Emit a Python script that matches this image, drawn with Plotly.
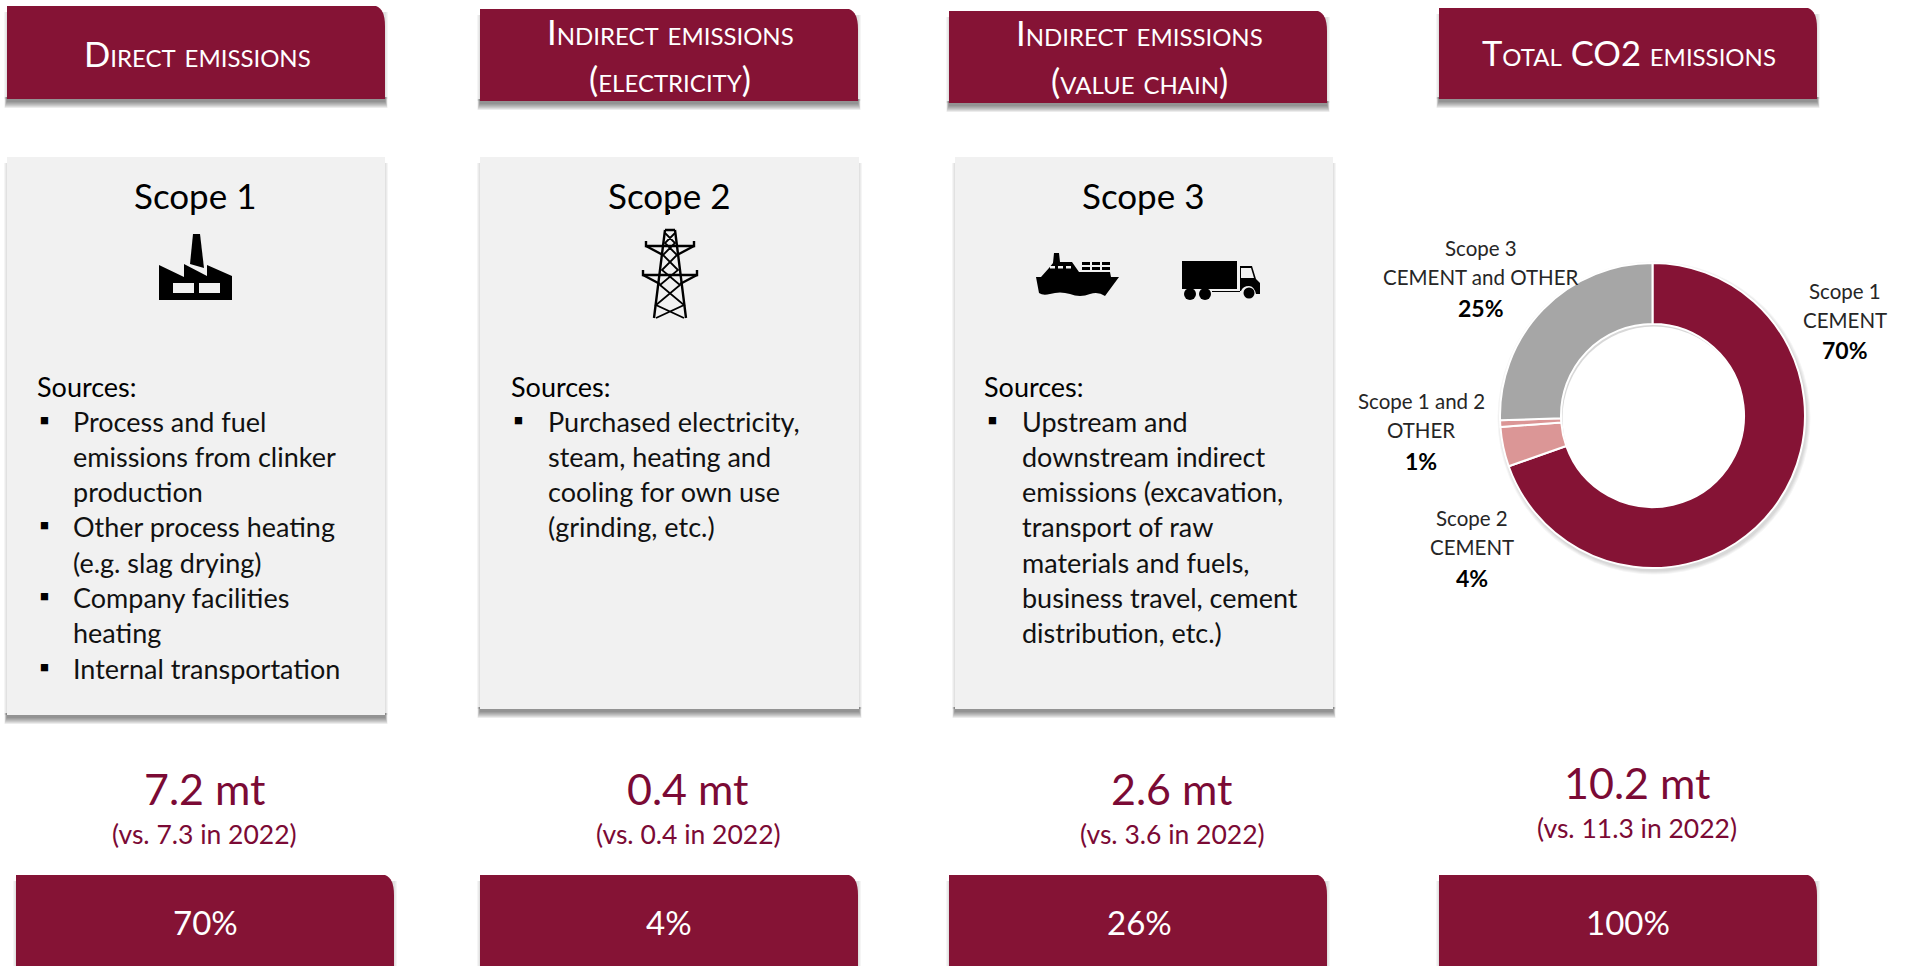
import plotly.graph_objects as go

W, H = 1908, 966
FONT = "Lato"
MAROON = "#851335"
VALUE_COLOR = "#7B0A35"
PINK = "#DB9696"
GREY = "#A6A6A6"
CARD = "#F1F1F1"

# ---- data ----
pie_labels = ["Scope 1 CEMENT", "Scope 2 CEMENT", "Scope 1 and 2 OTHER", "Scope 3 CEMENT and OTHER"]
pie_values = [69.6, 4.2, 0.7, 25.5]
pie_colors = [MAROON, PINK, PINK, GREY]

header_lines = [["Direct emissions"], ["Indirect emissions", "(electricity)"],
                ["Indirect emissions", "(value chain)"], ["Total CO2 emissions"]]
scope_titles = ["Scope 1", "Scope 2", "Scope 3"]
source_lines = [
    [("b", "Process and fuel"), ("", "emissions from clinker"), ("", "production"),
     ("b", "Other process heating"), ("", "(e.g. slag drying)"),
     ("b", "Company facilities"), ("", "heating"), ("b", "Internal transportation")],
    [("b", "Purchased electricity,"), ("", "steam, heating and"), ("", "cooling for own use"), ("", "(grinding, etc.)")],
    [("b", "Upstream and"), ("", "downstream indirect"), ("", "emissions (excavation,"),
     ("", "transport of raw"), ("", "materials and fuels,"), ("", "business travel, cement"), ("", "distribution, etc.)")],
]
mt_values = ["7.2 mt", "0.4 mt", "2.6 mt", "10.2 mt"]
prev_values = ["(vs. 7.3 in 2022)", "(vs. 0.4 in 2022)", "(vs. 3.6 in 2022)", "(vs. 11.3 in 2022)"]
share_values = ["70%", "4%", "26%", "100%"]
pie_text = [(["Scope 1", "CEMENT"], "70%"), (["Scope 3", "CEMENT and OTHER"], "25%"),
            (["Scope 1 and 2", "OTHER"], "1%"), (["Scope 2", "CEMENT"], "4%")]

# ---- layout positions (page pixels) ----
header_boxes = [(7, 6, 385, 99), (480, 9, 858, 101), (949, 11, 1327, 103), (1439, 8, 1817, 99)]
header_cx = [197, 670, 1139, 1629]
header_y = [[53], [31, 78], [32, 80], [52]]
card_boxes = [(7, 157, 385, 715), (480, 157, 859, 709), (955, 157, 1333, 709)]
scope_cx = [195, 669, 1143]
col_x = [(35, 44, 71), (509, 518, 546), (982, 992, 1020)]
line_y = [421, 456, 491, 526.5, 562, 597, 632.5, 668]
val_cx = [204.5, 688, 1172, 1637]
val_y = [(788, 834), (788, 834), (788, 834), (782, 828)]
bottom_boxes = [(16, 875, 394, 975), (480, 875, 858, 975), (949, 875, 1327, 975), (1439, 875, 1817, 975)]
bottom_cx = [205, 669, 1139, 1628]
pie_text_pos = [(1845, (291, 320, 350)), (1481, (248, 277, 308)), (1421, (401, 430, 461)), (1472, (518, 547, 578))]
pie_box = (1500, 263, 1805, 568)

shapes, annotations = [], []


def T(x, y, text, size, color="#000000", anchor="center", variant=None):
    font = dict(family=FONT, size=size, color=color)
    if variant:
        font["variant"] = variant
    annotations.append(dict(x=x, y=y, xref="x", yref="y", text=text, showarrow=False, font=font,
                            xanchor=anchor, yanchor="middle", align=anchor))


def shadow(x0, y0, x1, y1, dy=2, n=7, a=0.075):
    # faint glow on the sides
    for i in (3, 2, 1):
        shapes.append(dict(type="rect", xref="x", yref="y", x0=x0 - i, y0=y0 + 6, x1=x1 + i, y1=y1,
                           fillcolor="rgba(0,0,0,0.04)", line_width=0, layer="below"))
    # heavier blur under the lower edge
    for i in range(n, 0, -1):
        shapes.append(dict(type="rect", xref="x", yref="y", x0=x0 - i * 0.35, y0=y1 - 2,
                           x1=x1 + i * 0.35, y1=y1 + dy + i, fillcolor=f"rgba(0,0,0,{a})",
                           line_width=0, layer="below"))


def tab(x0, y0, x1, y1):
    shadow(x0, y0, x1, y1)
    p = f"M{x0},{y0} L{x1-9},{y0} Q{x1},{y0+3} {x1},{y0+20} L{x1},{y1} L{x0},{y1} Z"
    shapes.append(dict(type="path", xref="x", yref="y", path=p, fillcolor=MAROON, line_width=0, layer="below"))


def icon(path, fill="#000000"):
    shapes.append(dict(type="path", xref="x", yref="y", path=path, fillcolor=fill, line_width=0, layer="below"))


def stroke(path, w=2.4):
    shapes.append(dict(type="path", xref="x", yref="y", path=path, line=dict(color="#000000", width=w), layer="below"))


def disc(cx, cy, r, fill="#000000"):
    shapes.append(dict(type="circle", xref="x", yref="y", x0=cx - r, x1=cx + r, y0=cy - r, y1=cy + r,
                       fillcolor=fill, line_width=0, layer="below"))


for box, cx, ys, lines in zip(header_boxes, header_cx, header_y, header_lines):
    tab(*box)
    for y, line in zip(ys, lines):
        T(cx, y, line, 34.5, "#FFFFFF", variant="small-caps")

for box in card_boxes:
    x0, y0, x1, y1 = box
    shadow(x0, y0, x1, y1)
    shapes.append(dict(type="rect", xref="x", yref="y", x0=x0, y0=y0, x1=x1, y1=y1, fillcolor=CARD,
                       line_width=0, layer="below"))

for cx, title in zip(scope_cx, scope_titles):
    T(cx, 195, title, 35)

for (sx, bx, tx), lines in zip(col_x, source_lines):
    T(sx, 386, "Sources:", 27, anchor="left")
    for y, (mark, line) in zip(line_y, lines):
        if mark:
            T(bx, y - 2, "▪", 27, anchor="center")
        T(tx, y, line, 27, "#111111", anchor="left")

for cx, (y1, y2), v, p in zip(val_cx, val_y, mt_values, prev_values):
    T(cx, y1, v, 43, VALUE_COLOR)
    T(cx, y2, p, 26.5, VALUE_COLOR)

for box, cx, s in zip(bottom_boxes, bottom_cx, share_values):
    tab(*box)
    T(cx, 922, s, 33, "#FFFFFF")

for (cx, ys), (lines, pct) in zip(pie_text_pos, pie_text):
    T(cx, ys[0], lines[0], 20.5, "#262626")
    T(cx, ys[1], lines[1], 20.5, "#262626")
    T(cx, ys[2], f"<b>{pct}</b>", 23, "#000000")

# factory icon
icon("M193,234 L200,234 L204,268 L190,264 Z")
icon("M159,265 L184,277 L184,264 L207,276 L207,265 L232,276 L232,300 L159,300 Z")
icon("M173,283 L194,283 L194,293 L173,293 Z", CARD)
icon("M199,283 L220,283 L220,293 L199,293 Z", CARD)

# pylon icon
stroke("M668.5,210 L668.5,214", 3)
stroke("M665,230 L675,230 M665,230 L654,318 M675,230 L686,318")
stroke("M646,241 L646,246 L694,246 L694,241 M643,270 L643,275 L697,275 L697,270")
stroke("M646,246 L663,255 M694,246 L677,255 M643,275 L660,284 M697,275 L680,284")
stroke("M665,233 L675,243 L663,255 L678,270 L660,285 L684,305 L656,318"
       " M675,233 L665,243 L677,255 L662,270 L680,285 L656,305 L684,318", 1.8)

# ship icon
icon("M1036,277 L1041,277 L1049,268 L1053,263 L1054,253 L1059,253 L1060,262 L1072,262 L1079,272 L1110,272 L1111,277"
     " L1119,277 L1105,296 Q1098,291 1090,294 Q1080,298 1070,294 Q1060,291 1050,294 Q1043,296 1039,293 Z")
for x in (1050, 1058, 1066):
    icon(f"M{x},266 L{x+5},266 L{x+5},268.5 L{x},268.5 Z", CARD)
for y in (262, 267):
    for x in (1082, 1092, 1102):
        icon(f"M{x},{y} L{x+8},{y} L{x+8},{y+3} L{x},{y+3} Z")

# truck icon
icon("M1182,261 L1237,261 L1237,289 L1182,289 Z")
icon("M1240,266 L1252,266 L1256,279 L1260,283 L1260,294 L1256,294 Q1254,286 1249,286 Q1243,286 1241,291 L1212,291 L1212,292 L1240,292 Z")
icon("M1241,268 L1251,268 L1254,278 L1241,278 Z", CARD)
disc(1190, 294, 6)
disc(1205, 294, 6)
disc(1249, 293, 5.5)

# soft shadow under the ring
x0, y0, x1, y1 = pie_box
pcx, pcy, pr = (x0 + x1) / 2, (y0 + y1) / 2, (x1 - x0) / 2
for i in range(4, 0, -1):
    disc(pcx + 1.5, pcy + 2.5, pr + i, "rgba(0,0,0,0.04)")
disc(pcx + 1.5, pcy + 2.5, pr * 0.6, "#FFFFFF")

fig = go.Figure()
fig.add_trace(go.Pie(
    labels=pie_labels, values=pie_values, sort=False, direction="clockwise", rotation=0, hole=0.6,
    marker=dict(colors=pie_colors, line=dict(color="#FFFFFF", width=2)),
    textinfo="none", showlegend=False, hoverinfo="label+percent",
    domain=dict(x=[x0 / W, x1 / W], y=[1 - y1 / H, 1 - y0 / H]),
))
fig.update_layout(
    width=W, height=H, margin=dict(l=0, r=0, t=0, b=0), autosize=False,
    paper_bgcolor="#FFFFFF", plot_bgcolor="rgba(0,0,0,0)", showlegend=False,
    xaxis=dict(range=[0, W], visible=False, fixedrange=True, domain=[0, 1]),
    yaxis=dict(range=[H, 0], visible=False, fixedrange=True, domain=[0, 1]),
    shapes=shapes, annotations=annotations,
)
fig.write_html("out.html", config={"displayModeBar": False},
               post_script="document.body.style.margin='0';document.body.style.overflow='hidden';")
